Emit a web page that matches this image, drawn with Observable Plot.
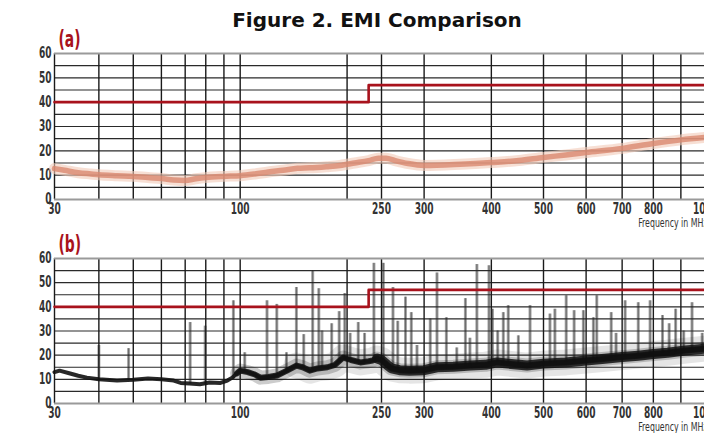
<!DOCTYPE html>
<html><head><meta charset="utf-8">
<script src="https://cdn.jsdelivr.net/npm/d3@7"></script>
<script src="https://cdn.jsdelivr.net/npm/@observablehq/plot@0.6"></script>
<style>
html,body{margin:0;padding:0;background:#fff;overflow:hidden;width:704px;height:433px;}
#title{font-family:"DejaVu Sans",sans-serif;font-weight:bold;font-size:20px;height:32px;line-height:24px;padding-top:8px;margin-bottom:-10px;text-align:center;width:704px;padding-left:50px;box-sizing:border-box;position:relative;z-index:2;color:#111;}
svg{display:block}
</style></head><body>
<div id="title">Figure 2. EMI Comparison</div>
<div id="pa"></div><div id="pb"></div>
<script>
// ---- data ----
const gridFreqs = [30,40,50,60,70,80,90,100,200,250,300,400,500,600,700,800,900,1000];
const labelFreqs = [30,100,250,300,400,500,600,700,800,1000];
const dbTicks = [0,10,20,30,40,50,60];
const dbGrid = [5,10,15,20,25,30,35,40,45,50,55];
const limitFreq = [30,230,230,1000];
const limitDb = [40,40,47,47];

// panel (a) trace
const aFreq = [30,32,35,38,40,45,50,55,60,65,70,75,80,90,100,110,120,132,145,157,175,191,210,230,245,255,265,280,300,350,400,450,500,550,600,700,800,900,1000];
const aDb = [12.7,12,11,10.5,10.2,9.8,9.5,9,8.6,8,7.8,8.5,9,9.5,9.8,10.5,11.3,12,12.8,13,13.5,14,15,16,17,17,16,14.8,14,14.5,15.2,16,17.3,18.3,19.3,21,23,24.5,25.5];

// panel (b) trace baseline
const bFreq = [30,31,33,35,37,40,45,50,55,60,65,68,72,77,82,88,92,95,98,100,105,110,114,120,127,135,144,150,157,165,176,185,195,205,218,230,236,243,250,256,261,270,282,300,317,340,366,390,410,430,466,500,550,600,650,700,750,800,850,918,1000];
const bDb = [13,13.6,12.5,11.5,10.7,10,9.5,9.8,10.3,10,9.5,8.5,8.3,8,8.7,8.5,9.5,10.7,12.5,13.6,13,12,10.7,11,11.6,13.5,15.7,15,13.6,14.5,15,16,19,18,17,17.5,17.8,18.6,18,16,14.5,13.8,13.6,13.8,15,15.2,15.7,16,17,16.5,15.7,16.5,17,17.8,18.5,19.2,19.8,20.5,21,21.9,22.7];

// panel (b) spikes
const spikeFreq = [40,48.5,72.3,79.7,95.7,103,119,126.8,135,144,151,160,166.5,170,181,190,197,204,215,224,238,252,262.6,268,277,284,291,308,317,330,345,358,365,376,396,402,411,421,430,449,472,514,525,551,570,593,619,628,668,682,709,750,789,832,856,880,911,944,986];
const spikeTop = [24,22.7,33.5,32,42.5,21,42.5,41,21,48,28.5,55,47.5,30,33,38,45.5,29,33.5,29,58,58,48,34,44,37.6,24,35,54,35.5,23,43.4,27,57.5,57,39,30,37.6,40.5,28,40.5,37,39,44.6,38.4,38.4,35.5,44.6,37.6,29,42.5,41.7,42.5,36.4,33,39,30,41.7,29];
const spikeBase = [9.5,9.5,8,8,10,13,11,11.5,13,15,15,14,14.5,15,15.5,17,18,18,17,17,18,18,14.5,14,14,13.6,13.6,14,15,15,15,15.5,15.5,16,16.5,17,17,16.5,16.5,16,16,16.5,16.7,17,17.2,17.8,18,18,18.8,19,19.2,19.8,20.3,20.8,21,21.4,21.8,22.2,22.6];

const RED = "#a8121c";
const FONT = '"DejaVu Sans Condensed","DejaVu Sans",sans-serif';

const aData = aFreq.map((f,i)=>({f, db:aDb[i]}));
const bData = bFreq.map((f,i)=>({f, db:bDb[i]}));
const limit = limitFreq.map((f,i)=>({f, db:limitDb[i]}));
const spikes = spikeFreq.map((f,i)=>({f, top:spikeTop[i], base:spikeBase[i]}));

function panel(label, traceMarks, h, mt, mb) {
  return Plot.plot({
    width: 704, height: h,
    marginLeft: 54, marginRight: 0, marginTop: mt, marginBottom: mb,
    style: {background: "transparent", fontFamily: FONT, fontSize: "15px", fontWeight: "bold", color: "#333", overflow: "visible"},
    x: {type: "log", domain: [30, 250, 1000], range: [54, 381, 705], axis: null},
    y: {domain: [0, 60], ticks: dbTicks, tickSize: 0, tickPadding: 3, label: null},
    marks: [
      Plot.ruleY(dbGrid, {stroke: "#2a2a2a", strokeWidth: 1.2}),
      Plot.ruleX(gridFreqs, {stroke: "#1a1a1a", strokeWidth: 1.4}),
      ...traceMarks,
      Plot.ruleY([0, 60], {stroke: "#9a9a9a", strokeWidth: 2}),
      Plot.line(limit, {x: "f", y: "db", stroke: RED, strokeWidth: 2.6}),
      Plot.text(labelFreqs, {x: d => d, text: d => String(d), frameAnchor: "bottom", lineAnchor: "top", dy: 4, fill: "#333"}),
      Plot.text([label], {frameAnchor: "top-left", textAnchor: "start", lineAnchor: "bottom", dx: 4, dy: -7, fill: RED, fontSize: 23, fontWeight: "bold"}),
      Plot.text(["Frequency in MHz"], {x: 1000, frameAnchor: "bottom", textAnchor: "end", lineAnchor: "middle", dx: 2, dy: 23, fill: "#333", fontSize: 13, fontWeight: "normal"})
    ]
  });
}

// squeeze glyphs horizontally (textLength) to mimic the condensed face
function condense(svg, s) {
  svg.querySelectorAll("text").forEach(el => {
    const L = el.getComputedTextLength();
    if (L > 0) {
      el.setAttribute("textLength", (L * s).toFixed(2));
      el.setAttribute("lengthAdjust", "spacingAndGlyphs");
    }
  });
}

const marksA = [
  Plot.line(aData, {x: "f", y: "db", stroke: "#f2c9b8", strokeWidth: 11, strokeOpacity: 0.6, curve: "monotone-x"}),
  Plot.line(aData, {x: "f", y: "db", stroke: "#d9886f", strokeWidth: 5.5, strokeOpacity: 0.8, curve: "monotone-x"})
];
const marksB = [
  Plot.ruleX(spikes, {x: "f", y1: "base", y2: "top", stroke: "#333", strokeOpacity: 0.45, strokeWidth: 3}),
  Plot.ruleX(spikes, {x: "f", y1: "base", y2: "top", stroke: "#111", strokeOpacity: 0.4, strokeWidth: 1}),
  Plot.line(bData, {x: "f", y: "db", filter: d => d.f >= 140, stroke: "#000", strokeWidth: 26, strokeOpacity: 0.1}),
  Plot.line(bData, {x: "f", y: "db", filter: d => d.f >= 98, stroke: "#000", strokeWidth: 14, strokeOpacity: 0.2}),
  Plot.line(bData, {x: "f", y: "db", filter: d => d.f >= 240, stroke: "#111", strokeWidth: 10, strokeOpacity: 0.85}),
  Plot.line(bData, {x: "f", y: "db", filter: d => d.f >= 98, stroke: "#111", strokeWidth: 6, strokeOpacity: 0.85}),
  Plot.line(bData, {x: "f", y: "db", stroke: "#111", strokeWidth: 4, strokeOpacity: 0.9})
];

const svgA = panel("(a)", marksA, 208, 31, 31);
const svgB = panel("(b)", marksB, 203, 28, 30);
document.getElementById("pa").append(svgA);
document.getElementById("pb").append(svgB);
condense(svgA, 0.67);
condense(svgB, 0.67);
</script>
</body></html>
